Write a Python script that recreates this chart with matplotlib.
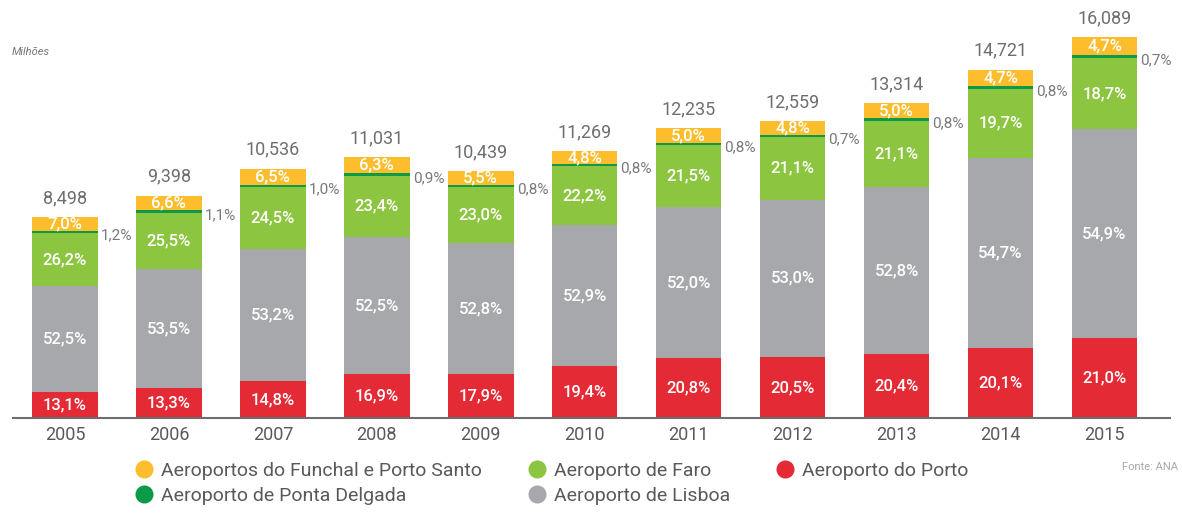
import matplotlib.pyplot as plt
import numpy as np

plt.rcParams['font.family'] = ['Roboto', 'DejaVu Sans']

# Dados (passageiros, milhares) e quotas por aeroporto
years = ['2005', '2006', '2007', '2008', '2009', '2010', '2011', '2012', '2013', '2014', '2015']
totals = [8498, 9398, 10536, 11031, 10439, 11269, 12235, 12559, 13314, 14721, 16089]
total_labels = ['8,498', '9,398', '10,536', '11,031', '10,439', '11,269',
                '12,235', '12,559', '13,314', '14,721', '16,089']

porto = [13.1, 13.3, 14.8, 16.9, 17.9, 19.4, 20.8, 20.5, 20.4, 20.1, 21.0]
lisboa = [52.5, 53.5, 53.2, 52.5, 52.8, 52.9, 52.0, 53.0, 52.8, 54.7, 54.9]
faro = [26.2, 25.5, 24.5, 23.4, 23.0, 22.2, 21.5, 21.1, 21.1, 19.7, 18.7]
ponta_delgada = [1.2, 1.1, 1.0, 0.9, 0.8, 0.8, 0.8, 0.7, 0.8, 0.8, 0.7]
funchal = [7.0, 6.6, 6.5, 6.3, 5.5, 4.8, 5.0, 4.8, 5.0, 4.7, 4.7]

# ordem de empilhamento (de baixo para cima)
series = [
    ('Aeroporto do Porto', porto, '#e42a35'),
    ('Aeroporto de Lisboa', lisboa, '#a7a8ab'),
    ('Aeroporto de Faro', faro, '#8cc540'),
    ('Aeroporto de Ponta Delgada', ponta_delgada, '#0a9a48'),
    ('Aeroportos do Funchal e Porto Santo', funchal, '#fdbd2c'),
]

fig = plt.figure(figsize=(11.82, 5.13), dpi=100)
ax = fig.add_axes([13 / 1182, 95 / 513, 1157 / 1182, 414 / 513])

x = np.arange(len(years))
tot = np.array(totals, dtype=float)
width = 0.63
bottom = np.zeros(len(years))
colors = {}

for name, share, color in series:
    h = tot * np.array(share) / 100.0
    ax.bar(x, h, width, bottom=bottom, color=color, edgecolor='none')
    colors[name] = color
    for i in range(len(years)):
        lbl = f'{share[i]:.1f}%'.replace('.', ',')
        if name == 'Aeroporto de Ponta Delgada':
            ax.text(x[i] + width / 2 + 0.03, bottom[i] + h[i] / 2 - 150, lbl,
                    ha='left', va='center', fontsize=11, color='#77787b')
        else:
            ax.text(x[i], bottom[i] + h[i] / 2, lbl, ha='center', va='center',
                    fontsize=12, color='white', fontweight='medium')
    bottom += h

for i in range(len(years)):
    ax.text(x[i], tot[i] + 420, total_labels[i], ha='center', va='bottom',
            fontsize=13, color='#6d6e71')

ax.set_xlim(-0.5, 10.63)
ax.set_ylim(0, 17500)
for s in ['top', 'right', 'left']:
    ax.spines[s].set_visible(False)
ax.spines['bottom'].set_color('#6d6e71')
ax.spines['bottom'].set_linewidth(1.5)
ax.set_yticks([])
ax.set_xticks(x)
ax.set_xticklabels(years, fontsize=13, color='#58595b')
ax.tick_params(axis='x', length=0, pad=6)

fig.text(12 / 1182, 1 - 52 / 513, 'Milhões', fontsize=8, style='italic',
         color='#77787b', va='center')
fig.text(1122 / 1182, 1 - 467 / 513, 'Fonte: ANA', fontsize=8,
         color='#a7a8ab', va='center')

order = ['Aeroportos do Funchal e Porto Santo', 'Aeroporto de Ponta Delgada',
         'Aeroporto de Faro', 'Aeroporto de Lisboa', 'Aeroporto do Porto']
leg_handles = [plt.Line2D([], [], marker='o', linestyle='none', markersize=13,
                          markerfacecolor=colors[n], markeredgecolor='none')
               for n in order]
leg = fig.legend(leg_handles, order, ncol=3, loc='upper left',
                 bbox_to_anchor=(116 / 1182, 1 - 444 / 513), frameon=False,
                 fontsize=14, handletextpad=0.3, columnspacing=2.3,
                 labelspacing=0.4, handlelength=1.1)
for t in leg.get_texts():
    t.set_color('#58595b')

fig.savefig('out.png', dpi=100)
